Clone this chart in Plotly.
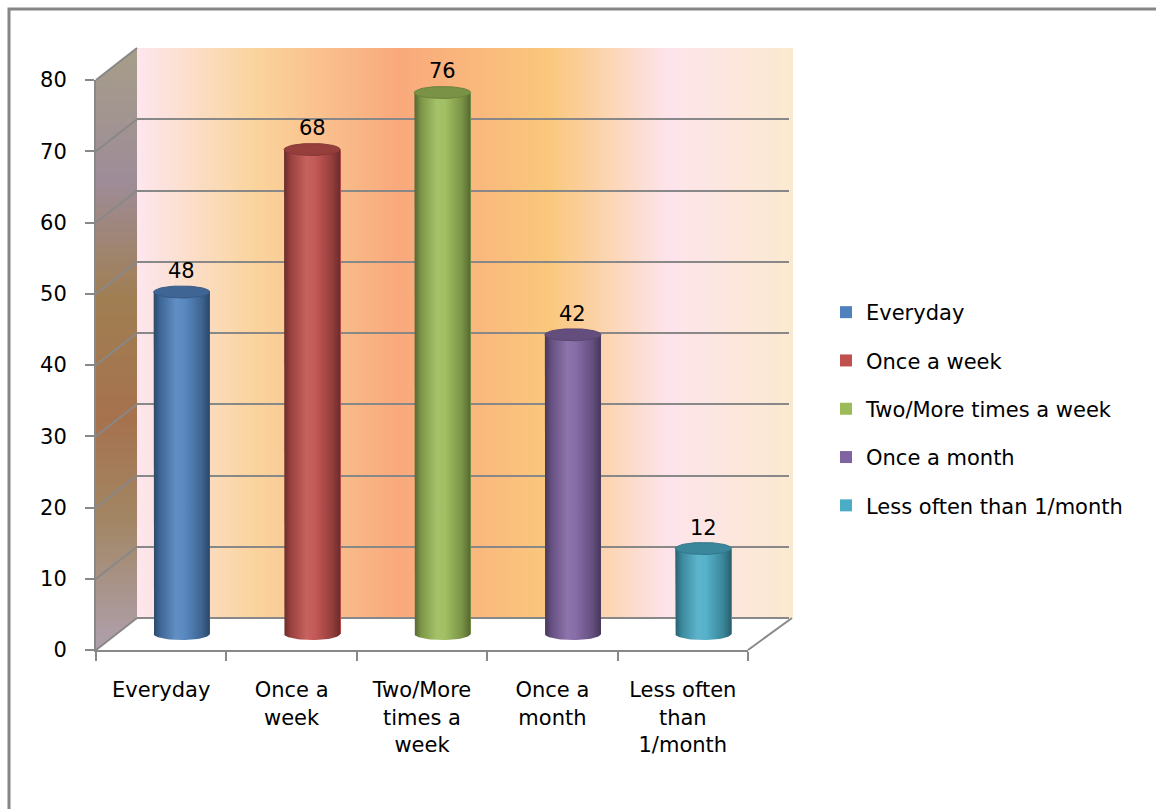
import base64
import struct
import zlib

import numpy as np
import plotly.graph_objects as go

# ---------------- data ----------------
categories = ["Everyday", "Once a week", "Two/More times a week",
              "Once a month", "Less often than 1/month"]
tick_labels = ["Everyday", "Once a<br>week", "Two/More<br>times a<br>week",
               "Once a<br>month", "Less often<br>than<br>1/month"]
values = [48, 68, 76, 42, 12]
colors = ["#4F81BD", "#C0504D", "#9BBB59", "#8064A2", "#4BACC6"]
y_ticks = [0, 10, 20, 30, 40, 50, 60, 70, 80]

# ---------------- geometry (pixels) ----------------
W, H = 1156, 809
FRONT_X0, FRONT_X1 = 96, 748          # front category axis
FRONT_Y0, FRONT_Y80 = 650, 80         # front value axis (0 and 80)
DX, DY = 41, -32                      # depth offset to the back wall
YMAX = 80
PX_PER_UNIT = (FRONT_Y0 - FRONT_Y80) / YMAX

FONT = "DejaVu Sans"
FS = 21
GRID = "#888888"


def px(x):
    return x / W


def py(y):
    return 1 - y / H


def hex_rgb(c):
    c = c.lstrip("#")
    return tuple(int(c[i:i + 2], 16) for i in (0, 2, 4))


def to_hex(rgb):
    return "#%02X%02X%02X" % tuple(int(max(0, min(255, round(v)))) for v in rgb)


def shade(c, f):
    r = hex_rgb(c)
    return to_hex([v * f for v in r])


def tint(c, f):
    r = hex_rgb(c)
    return to_hex([v + (255 - v) * f for v in r])


def interp(stops, t):
    for (t0, c0), (t1, c1) in zip(stops[:-1], stops[1:]):
        if t <= t1:
            a = 0 if t1 == t0 else (t - t0) / (t1 - t0)
            a = min(max(a, 0), 1)
            return [c0[i] + (c1[i] - c0[i]) * a for i in range(3)]
    return list(stops[-1][1])


def png_uri(w, h, pixel):
    rows = []
    for r in range(h):
        row = bytearray([0])
        for u in range(w):
            row += bytes(pixel(u, r))
        rows.append(bytes(row))
    raw = b"".join(rows)

    def chunk(t, d):
        return (struct.pack(">I", len(d)) + t + d +
                struct.pack(">I", zlib.crc32(t + d) & 0xFFFFFFFF))

    data = (b"\x89PNG\r\n\x1a\n" +
            chunk(b"IHDR", struct.pack(">IIBBBBB", w, h, 8, 6, 0, 0, 0)) +
            chunk(b"IDAT", zlib.compress(raw, 9)) + chunk(b"IEND", b""))
    return "data:image/png;base64," + base64.b64encode(data).decode()


# back wall gradient (horizontal)
back_x0 = FRONT_X0 + DX
back_x1 = FRONT_X1 + DX + 4
back_w = back_x1 - back_x0
back_stops = [(0.00, hex_rgb("#FDE6EE")), (0.18, hex_rgb("#FAD49C")),
              (0.40, hex_rgb("#F9A97C")), (0.63, hex_rgb("#FAC77C")),
              (0.81, hex_rgb("#FDE4EC")), (1.00, hex_rgb("#FBE9CF"))]


def back_pixel(u, r):
    c = interp(back_stops, u / (back_w - 1))
    return [int(round(v)) for v in c] + [255]


back_uri = png_uri(back_w, 2, back_pixel)

# side wall gradient (vertical, parallelogram)
side_w = DX
side_top = FRONT_Y80 + DY
side_h = FRONT_Y0 - side_top
side_stops = [(60, hex_rgb("#A69C8A")), (180, hex_rgb("#9E8C98")),
              (300, hex_rgb("#A07E52")), (420, hex_rgb("#A6724E")),
              (520, hex_rgb("#A28664")), (640, hex_rgb("#AE9EA8"))]


def side_pixel(u, r):
    xc = u + 0.5
    yc = side_top + r + 0.5
    yt = FRONT_Y80 + DY * xc / DX
    yb = FRONT_Y0 + DY * xc / DX
    a = min(max(yc - yt + 0.5, 0), 1) * min(max(yb - yc + 0.5, 0), 1)
    c = interp(side_stops, yc)
    return [int(round(v)) for v in c] + [int(round(255 * a))]


side_uri = png_uri(side_w, side_h, side_pixel)

fig = go.Figure()

# ---- subplot xy : back wall grid ----
fig.add_trace(go.Scatter(x=[0, 1], y=[0, YMAX], mode="markers",
                         marker=dict(opacity=0), hoverinfo="skip",
                         showlegend=False, xaxis="x", yaxis="y"))

# ---- subplot x2y2 : front axes ----
fig.add_trace(go.Scatter(x=tick_labels, y=values, mode="markers",
                         marker=dict(opacity=0), hoverinfo="skip",
                         showlegend=False, xaxis="x2", yaxis="y2"))

# ---- subplot x3y3 : cylinders ----
BAR_W = 0.43
half = BAR_W / 2
ey = 6.0 / PX_PER_UNIT            # ellipse semi-axis in value units

for i, (name, v, c) in enumerate(zip(categories, values, colors)):
    fig.add_trace(go.Bar(x=[i], y=[v], name=name, width=BAR_W,
                         marker=dict(color=c, line=dict(width=0)),
                         legendgroup=name, xaxis="x3", yaxis="y3",
                         hoverinfo="skip"))

for i, (v, c) in enumerate(zip(values, colors)):
    t = np.linspace(np.pi, 2 * np.pi, 40)
    bx = [i - half, i - half] + list(i + half * np.cos(t)) + [i + half, i + half]
    by = [v, 0] + list(ey * np.sin(t)) + [0, v]
    fig.add_trace(go.Scatter(
        x=bx, y=by, mode="lines", fill="toself", line=dict(width=0),
        fillgradient=dict(type="horizontal", colorscale=[
            [0.0, shade(c, 0.55)], [0.12, shade(c, 0.80)],
            [0.40, tint(c, 0.10)], [0.55, tint(c, 0.06)],
            [0.85, shade(c, 0.78)], [1.0, shade(c, 0.55)]]),
        hoverinfo="skip", showlegend=False, xaxis="x3", yaxis="y3"))
    t2 = np.linspace(0, 2 * np.pi, 60)
    fig.add_trace(go.Scatter(
        x=list(i + half * np.cos(t2)), y=list(v + ey * np.sin(t2)),
        mode="lines", fill="toself", fillcolor=shade(c, 0.78),
        line=dict(width=1, color=shade(c, 0.70)),
        hoverinfo="skip", showlegend=False, xaxis="x3", yaxis="y3"))

for i, v in enumerate(values):
    fig.add_annotation(x=i, y=v, xref="x3", yref="y3", text=str(v),
                       showarrow=False, yanchor="bottom", yshift=7,
                       font=dict(family=FONT, size=FS, color="#000000"))

# ---------------- axes ----------------
Y_LOW = -3  # room for the bottom ellipse of the cylinders
bar_y0 = FRONT_Y0 + DY / 2
bar_y80 = FRONT_Y80 + DY / 2

fig.update_layout(
    xaxis=dict(domain=[px(back_x0), px(FRONT_X1 + DX)], range=[0, 1],
               visible=False, fixedrange=True),
    yaxis=dict(domain=[py(FRONT_Y0 + DY), py(FRONT_Y80 + DY)],
               range=[0, YMAX], tickvals=y_ticks, showticklabels=False,
               showgrid=True, gridcolor=GRID, gridwidth=2,
               zeroline=True, zerolinecolor=GRID, zerolinewidth=2,
               showline=False, ticks="", fixedrange=True),
    xaxis2=dict(domain=[px(FRONT_X0), px(FRONT_X1)], anchor="y2",
                type="category", categoryorder="array",
                categoryarray=tick_labels, range=[-0.5, len(categories) - 0.5],
                tickson="boundaries", ticks="outside", ticklen=9,
                tickwidth=2, tickcolor=GRID, showline=True,
                linecolor=GRID, linewidth=2, showgrid=False, zeroline=False,
                tickfont=dict(family=FONT, size=FS, color="#000000"),
                ticklabelstandoff=20, fixedrange=True, automargin=False),
    yaxis2=dict(domain=[py(FRONT_Y0), py(FRONT_Y80)], anchor="x2",
                range=[0, YMAX], tickvals=y_ticks, ticks="outside",
                ticklen=9, tickwidth=2, tickcolor=GRID, showline=True,
                linecolor=GRID, linewidth=2, showgrid=False, zeroline=False,
                tickfont=dict(family=FONT, size=FS, color="#000000"),
                ticklabelstandoff=14, fixedrange=True, automargin=False),
    xaxis3=dict(domain=[px(FRONT_X0 + DX / 2), px(FRONT_X1 + DX / 2)],
                anchor="y3", range=[-0.5, len(categories) - 0.5],
                visible=False, fixedrange=True),
    yaxis3=dict(domain=[py(bar_y0 - Y_LOW * PX_PER_UNIT), py(bar_y80)],
                anchor="x3", range=[Y_LOW, YMAX], visible=False,
                fixedrange=True),
)

# ---------------- decoration shapes ----------------
shapes = []
for v in y_ticks:
    yf = FRONT_Y0 - v * PX_PER_UNIT
    shapes.append(dict(type="line", xref="paper", yref="paper",
                       x0=px(FRONT_X0), y0=py(yf), x1=px(FRONT_X0 + DX),
                       y1=py(yf + DY), line=dict(color=GRID, width=2)))
# right edge of the floor
shapes.append(dict(type="line", xref="paper", yref="paper",
                   x0=px(FRONT_X1), y0=py(FRONT_Y0), x1=px(FRONT_X1 + DX + 3),
                   y1=py(FRONT_Y0 + DY), line=dict(color=GRID, width=2)))
# outer chart frame
shapes.append(dict(type="rect", xref="paper", yref="paper",
                   x0=px(9), y0=-0.05, x1=1.05, y1=py(9),
                   line=dict(color="#868686", width=3)))

images = [
    dict(source=back_uri, xref="paper", yref="paper", x=px(back_x0),
         y=py(FRONT_Y80 + DY), sizex=back_w / W,
         sizey=(FRONT_Y0 - FRONT_Y80) / H, xanchor="left", yanchor="top",
         sizing="stretch", layer="below"),
    dict(source=side_uri, xref="paper", yref="paper", x=px(FRONT_X0),
         y=py(side_top), sizex=side_w / W, sizey=side_h / H,
         xanchor="left", yanchor="top", sizing="stretch", layer="below"),
]

fig.update_layout(
    width=W, height=H,
    margin=dict(l=0, r=0, t=0, b=0, pad=0, autoexpand=False),
    paper_bgcolor="#FFFFFF", plot_bgcolor="rgba(0,0,0,0)",
    shapes=shapes, images=images, bargap=0, barmode="overlay",
    showlegend=True,
    legend=dict(x=px(826), y=py(409), xanchor="left", yanchor="middle",
                font=dict(family=FONT, size=FS, color="#000000"),
                tracegroupgap=18, bgcolor="rgba(0,0,0,0)"),
    font=dict(family=FONT, size=FS, color="#000000"),
)

fig.write_html("out.html")
